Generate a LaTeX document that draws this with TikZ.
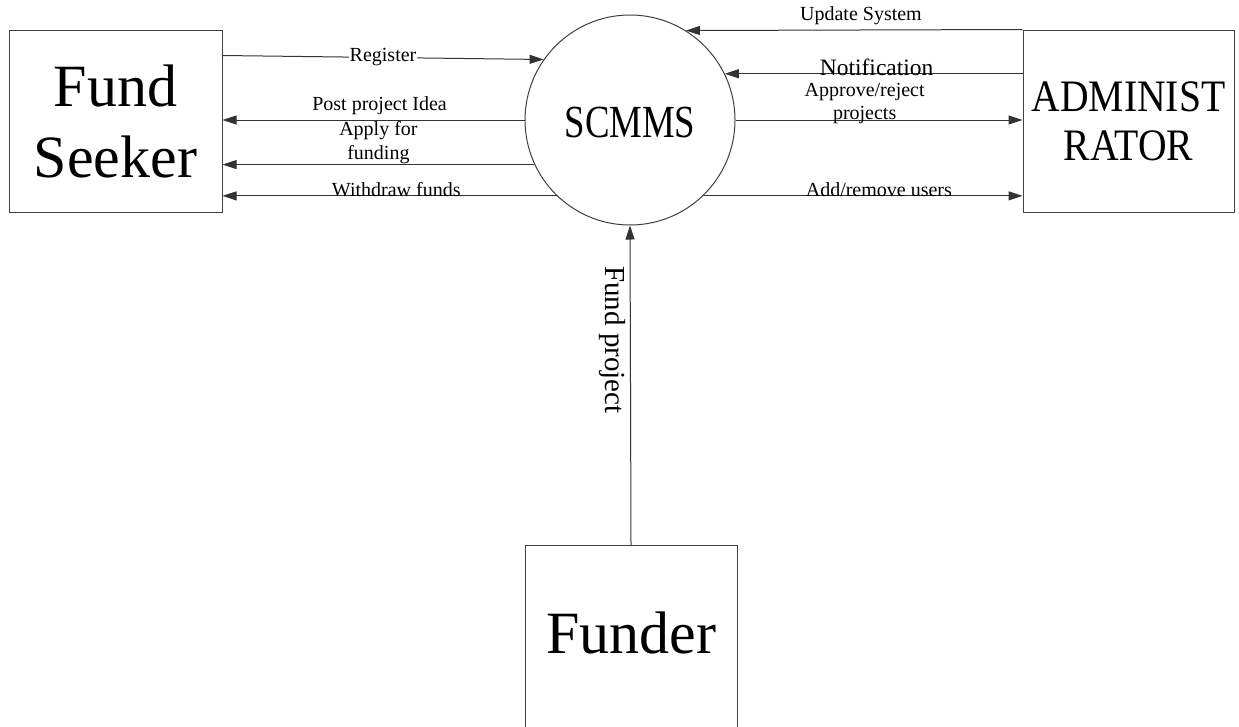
\documentclass[tikz,border=0pt]{standalone}
\usepackage{fontspec}
\setmainfont{Liberation Serif}
\usetikzlibrary{arrows.meta,calc}
\begin{document}
\begin{tikzpicture}[x=1pt,y=-1pt,
  ent/.style={draw=black!75,line width=1pt,fill=white,inner sep=0pt},
  arr/.style={draw=black!80,line width=1pt,-{Triangle[length=14pt,width=9pt]}},
  lbl/.style={font=\fontsize{20}{22}\selectfont,inner sep=1pt,align=center},
  big/.style={font=\fontsize{60}{71}\selectfont,align=center}]
\useasboundingbox (0,0) rectangle (1239,726);
% entities
\node[ent,minimum width=213pt,minimum height=182pt] (fs) at (115.5,121) {};
\node[big] (fst) at (fs.center) {Fund\\Seeker};
\node[ent,minimum width=211pt,minimum height=182pt] (adm) at (1128.5,121) {};
\node[font=\fontsize{45}{49}\selectfont,align=center] (admt) at (adm.center) {\scalebox{0.88}[1]{ADMINIST}\\\scalebox{0.88}[1]{RATOR}};
\draw[draw=black!75,line width=1pt,fill=white] (525,740) -- (525,545) -- (737,545) -- (737,740);
\coordinate (fd) at (631,545);
\node[big] (fdt) at (631,633) {Funder};
\node[ent,circle,minimum size=210pt] (sc) at (630,120) {};
\node[font=\fontsize{46}{50}\selectfont] (sct) at (630,122) {\scalebox{0.8}[1]{SCMMS}};
% flows
\draw[arr] ($(fs.north east)+(0,26)$) -- node[lbl,pos=0.5,fill=white,inner sep=0.5pt]{Register} (sc.145);
\draw[arr] (sc.west) -- node[lbl,pos=0.48,above=4pt]{Post project Idea} (sc.west -| fs.east);
\draw[arr] (sc.205) -- node[lbl,pos=0.5,above,yshift=-1pt,font=\fontsize{20}{24}\selectfont]{Apply for\\funding} (sc.205 -| fs.east);
\draw[arr] (sc.226) -- node[lbl,pos=0.48,above,yshift=-2pt]{Withdraw funds} (sc.226 -| fs.east);
\draw[arr] (adm.north west) -- node[lbl,pos=0.48,above=4pt]{Update System} (sc.58);
\draw[arr] (sc.26 -| adm.west) -- node[lbl,pos=0.49,above,yshift=-3pt,font=\fontsize{23.5}{25}\selectfont]{Notification} (sc.26);
\draw[arr] (sc.east) -- node[lbl,pos=0.45,above,yshift=-5pt,font=\fontsize{20}{23}\selectfont]{Approve/reject\\projects} (sc.east -| adm.west);
\draw[arr] (sc.-46) -- node[lbl,pos=0.55,above,yshift=-2pt]{Add/remove users} (sc.-46 -| adm.west);
\draw[arr] (fd) -- (sc.south);
\node[lbl,rotate=-90,font=\fontsize{29}{31}\selectfont] (fpl) at (612,340) {Fund project};
\end{tikzpicture}
\end{document}
